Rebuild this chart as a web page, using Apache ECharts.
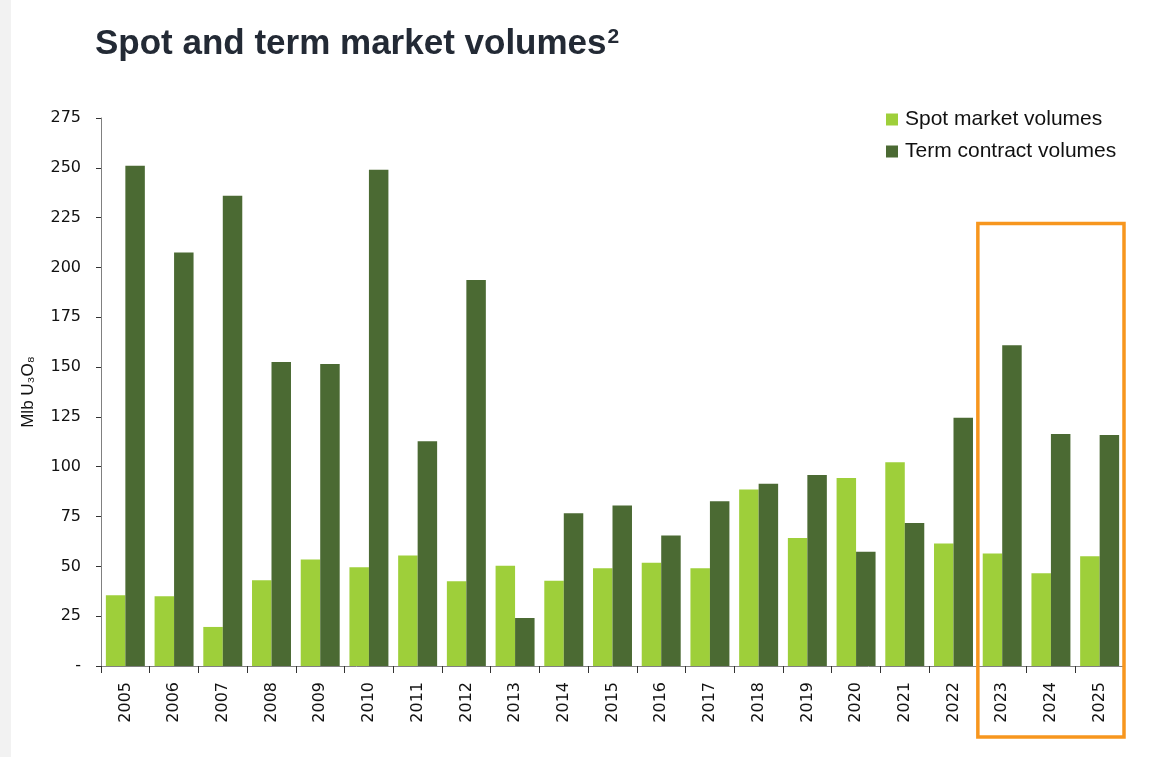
<!DOCTYPE html>
<html>
<head>
    <meta charset="utf-8">
    <script src="https://cdn.jsdelivr.net/npm/echarts@6/dist/echarts.min.js"></script>
    <style>
        html, body { margin: 0; padding: 0; background: #ffffff; }
    </style>
</head>
<body>
<div id="chart" style="width: 1153px; height: 757px;"></div>
<script type="text/javascript">
    // Data (Mlb U3O8)
    var years = ['2005', '2006', '2007', '2008', '2009', '2010', '2011', '2012', '2013', '2014', '2015',
                 '2016', '2017', '2018', '2019', '2020', '2021', '2022', '2023', '2024', '2025'];
    var spotVolumes = [35.5, 35, 19.6, 43, 53.5, 49.5, 55.5, 42.5, 50.3, 42.8, 49,
                       51.8, 49.1, 88.6, 64.2, 94.3, 102.3, 61.5, 56.4, 46.6, 55.1];
    var termVolumes = [251, 207.5, 236, 152.5, 151.5, 249, 112.8, 193.7, 24.1, 76.7, 80.6,
                       65.5, 82.7, 91.5, 95.8, 57.3, 71.7, 124.6, 161, 116.4, 115.9];
    var yTicks = { min: 0, max: 275, step: 25 };
    var highlightFrom = '2023', highlightTo = '2025', highlightTop = 222;

    var spotColor = '#9ecf3a';
    var termColor = '#4b6a33';
    var axisGray = '#808080';

    var chart = echarts.init(document.getElementById('chart'));
    var option = {
        backgroundColor: '#ffffff',
        animation: false,
        title: {
            text: '{t|Spot and term market volumes}{s|2}',
            left: 90,
            top: 22,
            textStyle: {
                rich: {
                    t: { fontFamily: 'Liberation Sans', fontWeight: 'bold', fontSize: 35, color: '#232a35' },
                    s: { fontFamily: 'Liberation Sans', fontWeight: 'bold', fontSize: 21, color: '#232a35', verticalAlign: 'top', padding: [0, 0, 14, 1] }
                }
            }
        },
        legend: {
            orient: 'vertical',
            left: 886,
            top: 109,
            padding: 0,
            itemWidth: 12,
            itemHeight: 12,
            itemGap: 11,
            icon: 'rect',
            textStyle: { fontFamily: 'Liberation Sans', fontSize: 21, color: '#111111', padding: [0, 0, 0, 2] },
            data: ['Spot market volumes', 'Term contract volumes']
        },
        grid: { left: 101, right: 29, top: 118, bottom: 91 },
        xAxis: {
            type: 'category',
            data: years,
            axisLine: { lineStyle: { color: axisGray, width: 1 } },
            axisTick: { show: true, length: 7, lineStyle: { color: '#333333' } },
            axisLabel: { rotate: 90, margin: 16, fontFamily: 'DejaVu Sans', fontSize: 16, color: '#111111' }
        },
        yAxis: {
            type: 'value',
            min: yTicks.min,
            max: yTicks.max,
            interval: yTicks.step,
            name: 'Mlb U₃O₈',
            nameLocation: 'middle',
            nameGap: 64,
            nameTextStyle: { fontFamily: 'Liberation Sans', fontSize: 17, color: '#111111' },
            splitLine: { show: false },
            axisLine: { show: true, lineStyle: { color: axisGray, width: 1 } },
            axisTick: { show: true, length: 5, lineStyle: { color: '#333333' } },
            axisLabel: {
                margin: 20,
                fontFamily: 'DejaVu Sans',
                fontSize: 16,
                color: '#111111',
                formatter: function (v) { return v === 0 ? '-' : String(v); }
            }
        },
        series: [
            {
                name: 'Spot market volumes',
                type: 'bar',
                data: spotVolumes,
                barGap: '0%',
                barCategoryGap: '20%',
                itemStyle: { color: spotColor }
            },
            {
                name: 'Term contract volumes',
                type: 'bar',
                data: termVolumes,
                barGap: '0%',
                barCategoryGap: '20%',
                itemStyle: { color: termColor }
            }
        ],
        graphic: [
            {
                type: 'rect',
                left: 0, top: 0,
                shape: { x: 0, y: 0, width: 11, height: 757 },
                style: { fill: '#f2f2f2' },
                silent: true
            }
        ]
    };
    chart.setOption(option);

    // Orange highlight box around the last three years, placed from the axis scales
    var c1 = chart.convertToPixel({ xAxisIndex: 0 }, highlightFrom);
    var c2 = chart.convertToPixel({ xAxisIndex: 0 }, years[years.indexOf(highlightFrom) + 1]);
    var c3 = chart.convertToPixel({ xAxisIndex: 0 }, highlightTo);
    var band = c2 - c1;
    var boxLeft = c1 - band / 2;
    var boxRight = c3 + band / 2;
    var boxTop = chart.convertToPixel({ yAxisIndex: 0 }, highlightTop);
    var boxBottom = chart.convertToPixel({ yAxisIndex: 0 }, 0) + 71;

    chart.setOption({
        graphic: [
            {
                type: 'rect',
                left: 0, top: 0,
                shape: { x: 0, y: 0, width: 11, height: 757 },
                style: { fill: '#f2f2f2' },
                silent: true
            },
            {
                type: 'rect',
                shape: { x: boxLeft, y: boxTop, width: boxRight - boxLeft, height: boxBottom - boxTop },
                style: { fill: 'none', stroke: '#f7961e', lineWidth: 3.5 },
                silent: true,
                z: 100
            }
        ]
    });
</script>
</body>
</html>
